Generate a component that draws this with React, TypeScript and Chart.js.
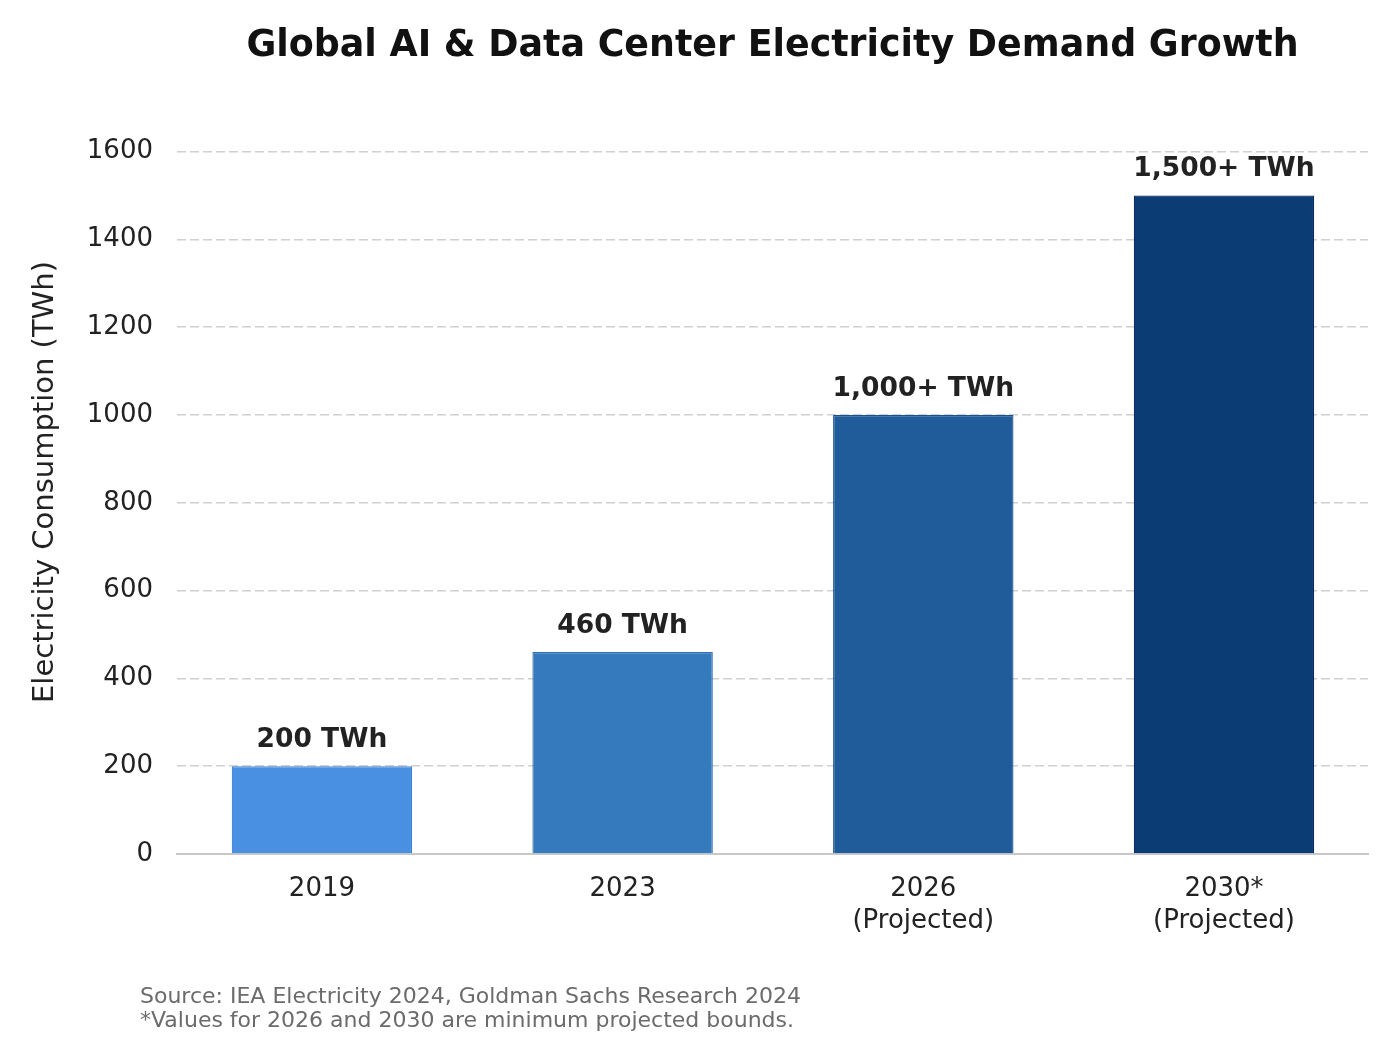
import React, { useEffect, useRef } from "react";
import { Chart, registerables } from "chart.js";

Chart.register(...registerables);

const categories: string[][] = [["2019"], ["2023"], ["2026", "(Projected)"], ["2030*", "(Projected)"]];
const positions: number[] = [0, 1, 2, 3];
const values: number[] = [200, 460, 1000, 1500];
const valueLabels: string[] = ["200 TWh", "460 TWh", "1,000+ TWh", "1,500+ TWh"];
const barColors: string[] = ["#4A90E2", "#357ABD", "#1F5C99", "#0B3C73"];
const borderColors: string[] = ["#3a80d6", "#2d6db0", "#194f96", "#0a2766"];
const titleText = "Global AI & Data Center Electricity Demand Growth";
const yTitle = "Electricity Consumption (TWh)";
const footerLines: string[] = [
  "Source: IEA Electricity 2024, Goldman Sachs Research 2024",
  "*Values for 2026 and 2030 are minimum projected bounds.",
];

const FONT = "'DejaVu Sans', sans-serif";

const decorPlugin = {
  id: "decor",
  afterDatasetsDraw(chart: any) {
    const { ctx, chartArea } = chart;
    const meta = chart.getDatasetMeta(0);
    ctx.save();
    ctx.fillStyle = "#222222";
    ctx.font = `bold 26.5px ${FONT}`;
    ctx.textAlign = "center";
    ctx.textBaseline = "middle";
    meta.data.forEach((bar: any, i: number) => {
      ctx.fillText(valueLabels[i], bar.x, bar.y - 26);
    });
    ctx.fillStyle = "#111111";
    ctx.font = `bold 36.4px ${FONT}`;
    ctx.fillText(titleText, (chartArea.left + chartArea.right) / 2, 47);
    ctx.save();
    ctx.translate(45, 482);
    ctx.rotate(-Math.PI / 2);
    ctx.fillStyle = "#222222";
    ctx.font = `29px ${FONT}`;
    ctx.fillText(yTitle, 0, 0);
    ctx.restore();
    ctx.fillStyle = "#6b6b6b";
    ctx.font = `22px ${FONT}`;
    ctx.textAlign = "left";
    footerLines.forEach((line, i) => {
      ctx.fillText(line, 140, 997 + i * 24);
    });
    ctx.restore();
  },
};

export default function App() {
  const canvasRef = useRef<HTMLCanvasElement | null>(null);

  useEffect(() => {
    if (!canvasRef.current) return;
    const chart = new Chart(canvasRef.current, {
      type: "bar",
      data: {
        datasets: [
          {
            data: positions.map((p, i) => ({ x: p, y: values[i] })),
            backgroundColor: barColors,
            borderColor: borderColors,
            borderWidth: 1.2,
            barPercentage: 0.6,
            categoryPercentage: 1,
          },
        ],
      },
      options: {
        animation: false,
        responsive: false,
        maintainAspectRatio: false,
        devicePixelRatio: 1,
        layout: { padding: { top: 110, right: 32, left: 0, bottom: 0 } },
        plugins: {
          legend: { display: false },
          tooltip: { enabled: false },
          title: { display: false },
        },
        scales: {
          x: {
            type: "linear",
            min: -0.482,
            max: 3.479,
            offset: false,
            grid: { display: false, drawTicks: false },
            border: { display: true, color: "#c8c8c8", width: 2 },
            ticks: {
              color: "#222222",
              font: { family: FONT, size: 26, lineHeight: 1.2 },
              padding: 20,
              maxRotation: 0,
              autoSkip: false,
              callback: (v: any) => categories[Math.round(Number(v))] ?? "",
            },
            afterBuildTicks(scale: any) {
              scale.ticks = positions.map((p) => ({ value: p }));
            },
            afterFit(scale: any) {
              scale.height = 196;
            },
          },
          y: {
            min: 0,
            max: 1695,
            grid: {
              color: (c: any) => (c.tick && c.tick.value === 0 ? "rgba(0,0,0,0)" : "#d0d0d0"),
              lineWidth: 1.6,
              drawTicks: false,
            },
            border: { display: false, dash: [9, 4] },
            ticks: {
              stepSize: 200,
              color: "#222222",
              font: { family: FONT, size: 26 },
              padding: 24,
              callback: (v: any) => String(v),
            },
            afterBuildTicks(scale: any) {
              scale.ticks = scale.ticks.filter((t: any) => t.value % 200 === 0);
            },
            afterFit(scale: any) {
              scale.width = 177;
            },
          },
        },
      } as any,
      plugins: [decorPlugin],
    });
    return () => chart.destroy();
  }, []);

  return (
    <div style={{ position: "absolute", left: 0, top: 0, width: 1400, height: 1050, background: "#ffffff" }}>
      <canvas ref={canvasRef} width={1400} height={1050} style={{ width: 1400, height: 1050, display: "block" }} />
    </div>
  );
}
